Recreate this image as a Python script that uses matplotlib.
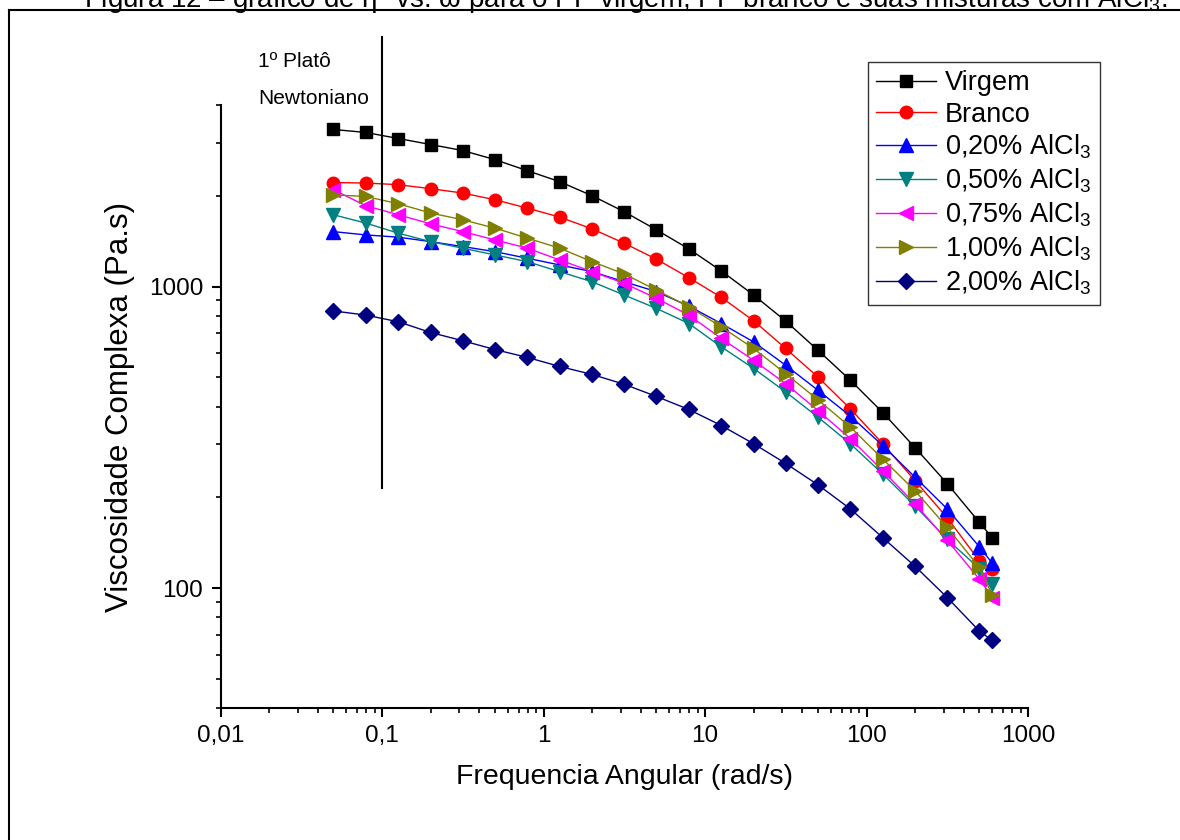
import matplotlib
matplotlib.use('Agg')
import matplotlib.pyplot as plt
from matplotlib.lines import Line2D
from matplotlib.ticker import LogLocator, FixedLocator, FixedFormatter, NullFormatter

plt.rcParams['font.family'] = ['Liberation Sans', 'DejaVu Sans']
plt.rcParams['mathtext.fontset'] = 'custom'
plt.rcParams['mathtext.rm'] = 'Liberation Sans'
plt.rcParams['mathtext.it'] = 'Liberation Sans:italic'

# angular frequency (rad/s)
freq = [0.05, 0.0794, 0.126, 0.2, 0.316, 0.5, 0.794, 1.26, 2, 3.16, 5, 7.94,
        12.6, 20, 31.6, 50, 79.4, 126, 200, 316, 500, 600]

# complex viscosity (Pa.s) for each sample
virgem = [3318, 3243, 3097, 2958, 2825, 2636, 2422, 2227, 2000, 1770, 1542, 1333,
          1127, 937, 768, 615, 489, 382, 292, 222, 165, 147]
branco = [2213, 2204, 2177, 2111, 2042, 1940, 1820, 1699, 1553, 1392, 1232, 1070,
          921, 770, 623, 501, 393, 301, 227, 171, 123, 116]
alcl_020 = [1521, 1483, 1458, 1409, 1357, 1305, 1241, 1179, 1120, 1037, 962, 861,
            754, 655, 548, 453, 372, 297, 233, 183, 137, 121]
alcl_050 = [1730, 1623, 1503, 1409, 1340, 1273, 1209, 1120, 1037, 937, 846, 754,
            631, 535, 447, 369, 301, 239, 187, 145, 116, 103]
alcl_075 = [2094, 1853, 1730, 1614, 1521, 1428, 1340, 1225, 1120, 1025, 914, 804,
            673, 569, 476, 388, 313, 245, 190, 144, 107, 93]
alcl_100 = [2014, 1989, 1882, 1753, 1665, 1562, 1447, 1340, 1209, 1101, 973, 857,
            735, 623, 514, 421, 342, 268, 210, 159, 117, 95]
alcl_200 = [830, 804, 764, 704, 661, 618, 582, 543, 511, 474, 432, 391,
            346, 301, 259, 220, 183, 147, 118, 93, 72, 67]

series = [virgem, branco, alcl_020, alcl_050, alcl_075, alcl_100, alcl_200]
labels = ['Virgem', 'Branco', '0,20% AlCl$_3$', '0,50% AlCl$_3$',
          '0,75% AlCl$_3$', '1,00% AlCl$_3$', '2,00% AlCl$_3$']
colors = ['#000000', '#ff0000', '#0000ff', '#008080', '#ff00ff', '#808000', '#000080']
markers = ['s', 'o', '^', 'v', '<', '>', 'D']
msizes = [8, 9, 10, 10, 10, 10, 8]

xticks = [0.01, 0.1, 1, 10, 100, 1000]
xticklabels = ['0,01', '0,1', '1', '10', '100', '1000']
yticks = [100, 1000]
yticklabels = ['100', '1000']

fig = plt.figure(figsize=(11.8, 8.4), dpi=100)
ax = fig.add_axes([0.1869, 0.1571, 0.6843, 0.7179])

for y, lab, c, m, ms in zip(series, labels, colors, markers, msizes):
    ax.plot(freq, y, color=c, marker=m, markersize=ms, linewidth=1.0, label=lab)

ax.set_xscale('log')
ax.set_yscale('log')
ax.set_xlim(0.01, 1000)
ax.set_ylim(40, 4000)

ax.xaxis.set_major_locator(FixedLocator(xticks))
ax.xaxis.set_major_formatter(FixedFormatter(xticklabels))
ax.xaxis.set_minor_locator(LogLocator(base=10, subs=range(2, 10)))
ax.xaxis.set_minor_formatter(NullFormatter())
ax.yaxis.set_major_locator(FixedLocator(yticks))
ax.yaxis.set_major_formatter(FixedFormatter(yticklabels))
ax.yaxis.set_minor_locator(LogLocator(base=10, subs=range(2, 10)))
ax.yaxis.set_minor_formatter(NullFormatter())

for s in ['top', 'right']:
    ax.spines[s].set_visible(False)
for s in ['left', 'bottom']:
    ax.spines[s].set_linewidth(1.5)
ax.tick_params(which='major', direction='out', length=6.5, width=1.5, labelsize=17.5, pad=6)
ax.tick_params(which='minor', direction='out', length=3.5, width=1.2)

ax.set_xlabel('Frequencia Angular (rad/s)', fontsize=20.5, labelpad=12)
ax.set_ylabel('Viscosidade Complexa (Pa.s)', fontsize=22.5, labelpad=10)

# first Newtonian plateau marker
plateau_x = 0.1
plateau_y = (215, 6700)
ax.plot([plateau_x, plateau_x], plateau_y, color='black', linewidth=1.5, clip_on=False)
fig.text(258 / 1180, 1 - 67 / 840, '1º Platô', fontsize=15, va='baseline')
fig.text(258 / 1180, 1 - 104 / 840, 'Newtoniano', fontsize=15, va='baseline')

leg = ax.legend(loc='upper left', bbox_to_anchor=(868 / 1180, 1 - 62 / 840),
                bbox_transform=fig.transFigure, fontsize=19.5, frameon=True,
                fancybox=False, edgecolor='black', handlelength=2.2,
                handletextpad=0.35, labelspacing=0.2, borderpad=0.3,
                borderaxespad=0)
leg.get_frame().set_linewidth(1.0)

# caption (cut off at the top of the page) and page border
fig.text(0.53, 1 - 7 / 840,
         'Figura 12 – gráfico de η* vs. ω para o PP virgem, PP branco e suas misturas com AlCl$_3$.',
         fontsize=20, ha='center', va='baseline')
fig.add_artist(Line2D([9 / 1180, 9 / 1180], [0, 1 - 10 / 840], color='black',
                      linewidth=1.5, transform=fig.transFigure))
fig.add_artist(Line2D([9 / 1180, 1], [1 - 10 / 840, 1 - 10 / 840], color='black',
                      linewidth=1.5, transform=fig.transFigure))

fig.savefig('out.png', dpi=100)
